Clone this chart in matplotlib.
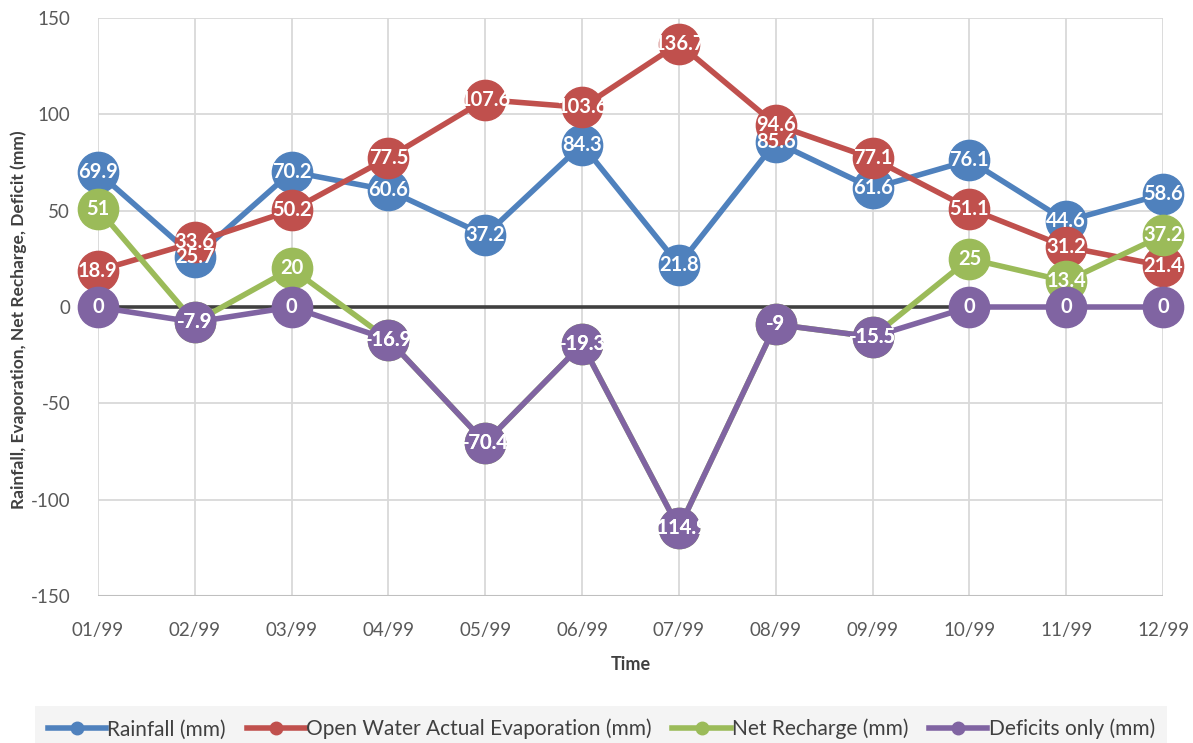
import numpy as np
import matplotlib.pyplot as plt
from matplotlib.lines import Line2D

plt.rcParams['font.family'] = ['Lato', 'DejaVu Sans']
plt.rcParams['axes.unicode_minus'] = False

months = ['01/99', '02/99', '03/99', '04/99', '05/99', '06/99',
          '07/99', '08/99', '09/99', '10/99', '11/99', '12/99']
rainfall = [69.9, 25.7, 70.2, 60.6, 37.2, 84.3, 21.8, 85.6, 61.6, 76.1, 44.6, 58.6]
evaporation = [18.9, 33.6, 50.2, 77.5, 107.6, 103.6, 136.7, 94.6, 77.1, 51.1, 31.2, 21.4]
recharge = [51, -7.9, 20, -16.9, -70.4, -19.3, -114.9, -9, -15.5, 25, 13.4, 37.2]
deficits = [0, -7.9, 0, -16.9, -70.4, -19.3, -114.9, -9, -15.5, 0, 0, 0]

names = ['Rainfall (mm)', 'Open Water Actual Evaporation (mm)',
         'Net Recharge (mm)', 'Deficits only (mm)']
colors = ['#4f81bd', '#c0504d', '#9bbb59', '#8064a2']
series = [rainfall, evaporation, recharge, deficits]

fig = plt.figure(figsize=(11.93, 7.43), dpi=100)
ax = fig.add_axes([0.0821, 0.1978, 0.8928, 0.778])

x = np.arange(len(months))

# grid and zero line
for v in np.arange(-100, 151, 50):
    ax.axhline(v, color='#d9d9d9', lw=1.3, zorder=0)
for xi in x:
    ax.axvline(xi, color='#d9d9d9', lw=1.3, zorder=0)
ax.axhline(-150, color='#bfbfbf', lw=1.5, zorder=0)
ax.axhline(0, color='#404040', lw=2.6, zorder=1)

for i, (vals, c) in enumerate(zip(series, colors)):
    ax.plot(x, vals, color=c, lw=4.0, marker='o', ms=29, zorder=2 + i,
            clip_on=False)

# value labels sit above every series
for vals in series:
    for xi, v in zip(x, vals):
        ax.text(xi, v, f'{v:g}', color='white', fontsize=14.5, fontweight='bold',
                ha='center', va='center', zorder=10, clip_on=False)

ax.set_xlim(0, 11)
ax.set_ylim(-150, 150)
ax.set_yticks(np.arange(-150, 151, 50))
ax.set_xticks(x)
ax.set_xticklabels(months)
ax.tick_params(axis='both', length=0, labelsize=13.5, colors='#595959')
ax.tick_params(axis='x', pad=19)
ax.tick_params(axis='y', pad=20)
for s in ax.spines.values():
    s.set_visible(False)

ax.set_xlabel('Time', fontsize=13, fontweight='bold', color='#404040', labelpad=12)
fig.text(0.016, 0.57, 'Rainfall, Evaporation, Net Recharge, Deficit (mm)',
         rotation=90, fontsize=12.5, fontweight='bold', color='#404040',
         ha='center', va='center')

handles = [Line2D([0], [0], color=c, lw=4.0, marker='o', ms=9) for c in colors]
leg = fig.legend(handles, names, loc='lower center', bbox_to_anchor=(0.504, -0.026),
                 ncol=4, frameon=True, fontsize=15, handlelength=2.8,
                 handletextpad=0.05, columnspacing=1.0, borderpad=0.6)
leg.get_frame().set_facecolor('#f2f2f2')
leg.get_frame().set_edgecolor('none')
leg.get_frame().set_boxstyle('square', pad=0)
for t in leg.get_texts():
    t.set_color('#404040')

fig.savefig('out.png', dpi=100)
